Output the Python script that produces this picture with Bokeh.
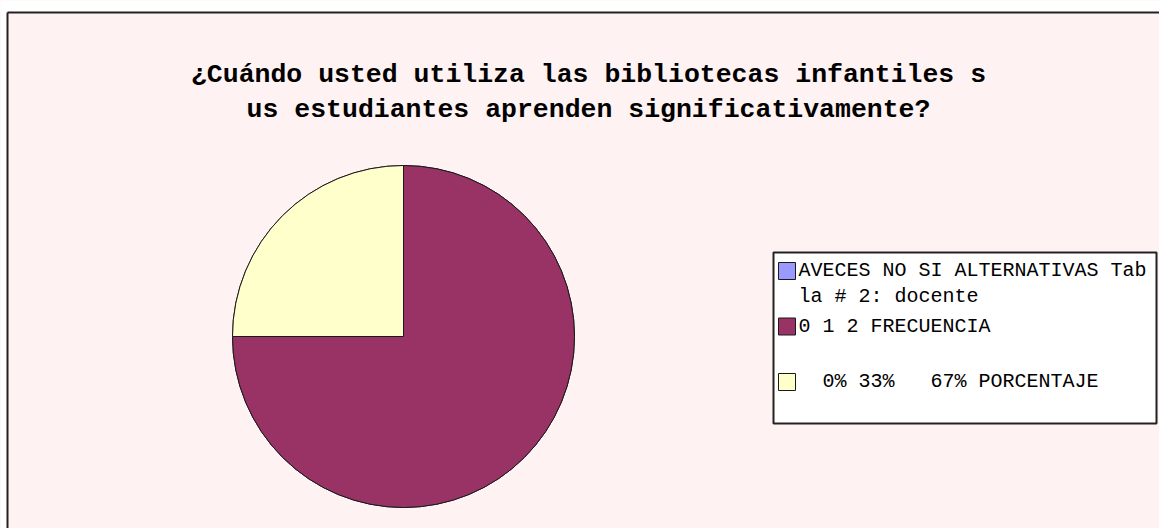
import math
from bokeh.plotting import figure
from bokeh.models import Range1d, Label, ColumnDataSource
from bokeh.core.properties import value
from bokeh.embed import file_html
from bokeh.resources import INLINE

# ---- data ----
categories = [
    "AVECES NO SI ALTERNATIVAS Tab\nla # 2: docente",
    "0 1 2 FRECUENCIA",
    "  0% 33%   67% PORCENTAJE",
]
shares = [0, 75, 25]
colors = ["#9999FF", "#993366", "#FFFFCC"]
title_lines = [
    "¿Cuándo usted utiliza las bibliotecas infantiles s",
    "us estudiantes aprenden significativamente?",
]

# ---- layout (1 data unit = 1 screen pixel, y measured from bottom) ----
W, H = 1159, 528
BG = "#FFF2F2"
cx, cy, R = 403, 192, 171
FONT = "Liberation Mono"
NBSP = "\u00a0"

p = figure(width=W, height=H, x_range=Range1d(0, W), y_range=Range1d(0, H),
           output_backend="svg", toolbar_location=None,
           x_axis_type=None, y_axis_type=None, min_border=0,
           background_fill_color=BG, border_fill_color="white",
           outline_line_color=None)
p.grid.visible = False

# white margin above / left of the chart area and the chart border
p.quad(left=0, right=W, bottom=516, top=H, fill_color="white", line_color=None)
p.quad(left=0, right=7, bottom=0, top=H, fill_color="white", line_color=None)
p.segment(x0=7, y0=516, x1=W, y1=516, line_color="#222222", line_width=2)
p.segment(x0=7, y0=0, x1=7, y1=516, line_color="#222222", line_width=2)

# pie slices, clockwise from 12 o'clock
total = float(sum(shares))
starts, ends = [], []
a = math.pi / 2
for s in shares:
    starts.append(a)
    a = a - s / total * 2 * math.pi
    ends.append(a)
pie_src = ColumnDataSource(dict(start=starts, end=ends, color=colors, label=categories))
p.wedge(x=cx, y=cy, radius=R, start_angle="start", end_angle="end",
        direction="clock", fill_color="color", line_color="#1a1a1a",
        line_width=1, source=pie_src)

# legend box
L_LEFT, L_RIGHT, L_TOP, L_BOTTOM = 773, 1156, 276, 105
ROW = 55.5
p.quad(left=L_LEFT, right=L_RIGHT, bottom=L_BOTTOM, top=L_TOP,
       fill_color="white", line_color="#222222", line_width=2)

sq_y, tx, ty, tt = [], [], [], []
for i, cat in enumerate(categories):
    top = L_TOP - 10 - i * ROW
    sq_y.append(top - 8.5)
    for j, line in enumerate(cat.split("\n")):
        tx.append(798)
        ty.append(top - 8 - j * 26)
        tt.append(line.replace(" ", NBSP))

p.rect(x=786.5, y=sq_y, width=17, height=17, fill_color=colors,
       line_color="#1a1a1a", line_width=1)
p.text(x=tx, y=ty, text=tt, text_font=value(FONT), text_font_size="20px",
       text_baseline="alphabetic", text_align="left", text_color="black")

for line, yb in zip(title_lines, [454, 419]):
    p.add_layout(Label(x=588, y=yb, text=line, text_align="center",
                       text_baseline="alphabetic",
                       text_font=FONT, text_font_style="bold",
                       text_font_size="26.5px", text_color="black"))

open("out.html", "w").write(file_html(p, INLINE))
